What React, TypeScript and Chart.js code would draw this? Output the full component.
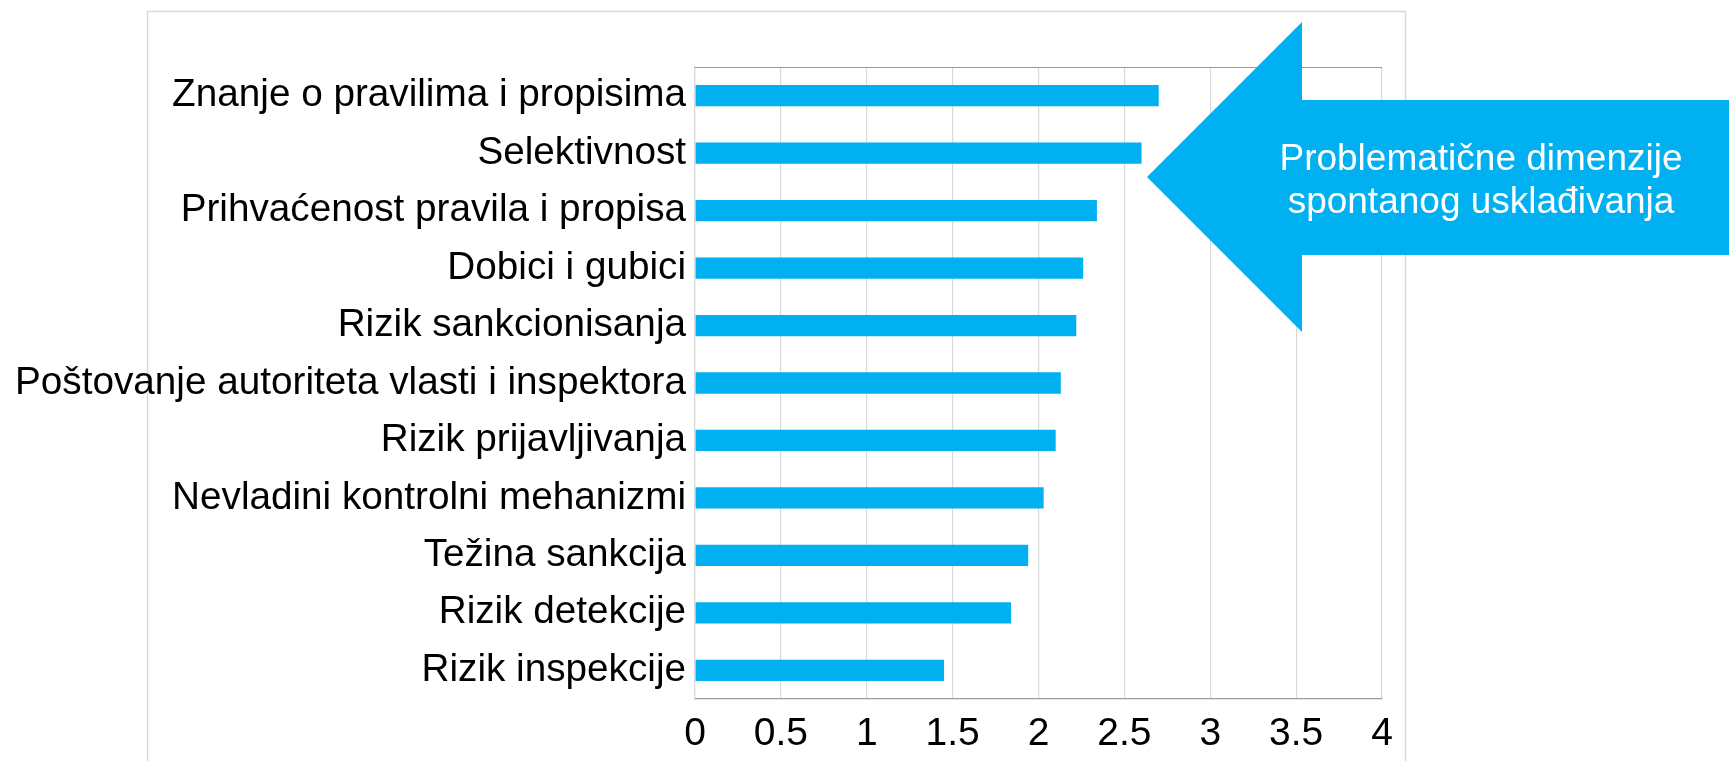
import React, { useEffect, useRef } from "react";
import { Chart, registerables } from "chart.js";

Chart.register(...registerables);

const categories: string[] = [
  "Znanje o pravilima i propisima",
  "Selektivnost",
  "Prihvaćenost pravila i propisa",
  "Dobici i gubici",
  "Rizik sankcionisanja",
  "Poštovanje autoriteta vlasti i inspektora",
  "Rizik prijavljivanja",
  "Nevladini kontrolni mehanizmi",
  "Težina sankcija",
  "Rizik detekcije",
  "Rizik inspekcije",
];

const values: number[] = [2.7, 2.6, 2.34, 2.26, 2.22, 2.13, 2.1, 2.03, 1.94, 1.84, 1.45];

const calloutLines: string[] = ["Problematične dimenzije", "spontanog usklađivanja"];

const BLUE = "#00B0F0";
const FONT = "'Liberation Sans', Arial, sans-serif";

const framePlugin = {
  id: "frame",
  beforeDraw(chart: any) {
    const ctx = chart.ctx;
    ctx.save();
    ctx.fillStyle = "#ffffff";
    ctx.fillRect(0, 0, chart.width, chart.height);
    ctx.strokeStyle = "#d9d9d9";
    ctx.lineWidth = 1.5;
    ctx.strokeRect(147.5, 11.5, 1258, 900);
    ctx.restore();
  },
  afterDraw(chart: any) {
    const ctx = chart.ctx;
    const a = chart.chartArea;
    ctx.save();
    // top border of plot area
    ctx.strokeStyle = "#9a9a9a";
    ctx.lineWidth = 1.2;
    ctx.beginPath();
    ctx.moveTo(a.left, a.top + 0.5);
    ctx.lineTo(a.right, a.top + 0.5);
    ctx.stroke();

    // callout arrow
    ctx.fillStyle = BLUE;
    ctx.beginPath();
    ctx.moveTo(1147, 177);
    ctx.lineTo(1302, 22);
    ctx.lineTo(1302, 100);
    ctx.lineTo(1729, 100);
    ctx.lineTo(1729, 255);
    ctx.lineTo(1302, 255);
    ctx.lineTo(1302, 332);
    ctx.closePath();
    ctx.fill();

    ctx.fillStyle = "#ffffff";
    ctx.font = `37px ${FONT}`;
    ctx.textAlign = "center";
    ctx.textBaseline = "alphabetic";
    ctx.fillText(calloutLines[0], 1481, 170);
    ctx.fillText(calloutLines[1], 1481, 213);
    ctx.restore();
  },
};

export default function App() {
  const ref = useRef<HTMLCanvasElement | null>(null);

  useEffect(() => {
    if (!ref.current) return;
    const chart = new Chart(ref.current, {
      type: "bar",
      data: {
        labels: categories,
        datasets: [
          {
            data: values,
            backgroundColor: BLUE,
            borderWidth: 0,
            barPercentage: 0.37,
            categoryPercentage: 1,
          },
        ],
      },
      options: {
        indexAxis: "y",
        responsive: false,
        animation: false,
        layout: { padding: { top: 67, right: 347, bottom: 0, left: 0 } },
        plugins: { legend: { display: false }, tooltip: { enabled: false }, title: { display: false } },
        scales: {
          x: {
            min: 0,
            max: 4,
            afterFit: (s: any) => {
              s.height = 62;
            },
            ticks: {
              stepSize: 0.5,
              autoSkip: false,
              maxRotation: 0,
              color: "#000000",
              padding: 12,
              font: { family: FONT, size: 39 },
              callback: (v: any) => String(Number(v)),
            },
            grid: { color: "#d9d9d9", lineWidth: 1.2, drawTicks: false, tickLength: 0 },
            border: { color: "#9a9a9a", width: 1.2 },
          },
          y: {
            afterFit: (s: any) => {
              s.width = 695;
            },
            ticks: {
              color: "#000000",
              padding: 9,
              autoSkip: false,
              font: { family: FONT, size: 38.7 },
            },
            grid: { display: false, drawTicks: false },
            border: { color: "#d9d9d9", width: 1.2 },
          },
        },
      },
      plugins: [framePlugin],
    });
    return () => chart.destroy();
  }, []);

  return (
    <div style={{ position: "fixed", left: 0, top: 0, width: 1729, height: 761, background: "#fff" }}>
      <canvas ref={ref} width={1729} height={761} style={{ width: 1729, height: 761, display: "block" }} />
    </div>
  );
}
